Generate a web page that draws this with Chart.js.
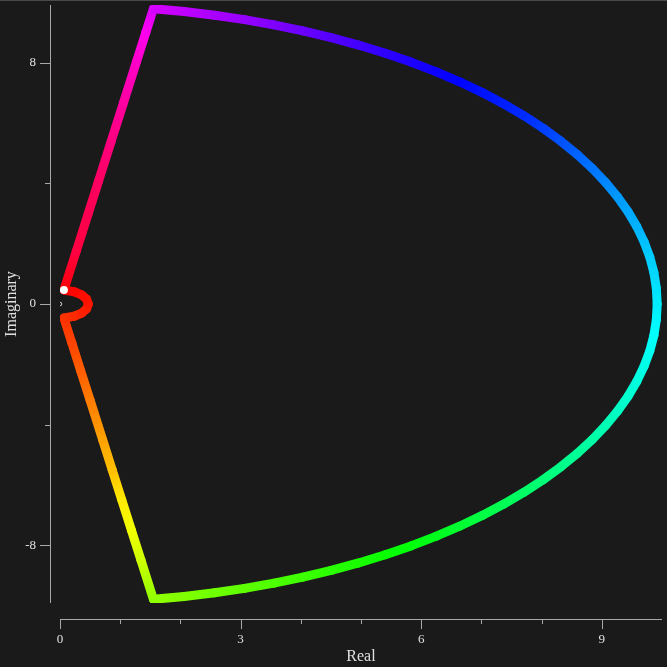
<!DOCTYPE html>
<html>
<head>
<meta charset="utf-8">
<script src="https://cdn.jsdelivr.net/npm/chart.js@4.4.1/dist/chart.umd.min.js"></script>
<style>
  html, body { margin: 0; padding: 0; background: #1a1a1a; }
  #wrap { width: 667px; height: 667px; position: relative; }
</style>
</head>
<body>
<div id="wrap"><canvas id="nyquist"></canvas></div>
<script>
// contour points (Real, Imaginary), in drawing order
const pathX = [
  0.065, 0.270, 0.469, 0.639, 0.851, 1.058, 1.270, 1.425,
  1.552, 2.062, 2.568, 3.065, 3.555, 4.035, 4.504, 4.960, 5.403, 5.831, 6.243, 6.638, 7.015, 7.372,
  7.709, 8.025, 8.320, 8.591, 8.839, 9.062, 9.261, 9.435, 9.582, 9.703, 9.798, 9.866, 9.906, 9.920,
  9.906, 9.866, 9.798, 9.703, 9.582, 9.435, 9.261, 9.062, 8.839, 8.591, 8.320, 8.025, 7.709, 7.372,
  7.015, 6.638, 6.243, 5.831, 5.403, 4.960, 4.504, 4.035, 3.555, 3.065, 2.568, 2.062, 1.552,
  1.345, 1.186, 1.026, 0.867, 0.708, 0.501, 0.341, 0.198, 0.065,
  0.235, 0.360, 0.442, 0.470, 0.442, 0.360, 0.235, 0.065
];
const pathY = [
  0.465, 1.75, 3.0, 4.07, 5.4, 6.7, 8.03, 9.0,
  9.798, 9.703, 9.582, 9.435, 9.261, 9.062, 8.839, 8.591, 8.320, 8.025, 7.709, 7.372, 7.015, 6.638,
  6.243, 5.831, 5.403, 4.960, 4.504, 4.035, 3.555, 3.065, 2.568, 2.062, 1.552, 1.037, 0.519, 0,
  -0.519, -1.037, -1.552, -2.062, -2.568, -3.065, -3.555, -4.035, -4.504, -4.960, -5.403, -5.831, -6.243, -6.638,
  -7.015, -7.372, -7.709, -8.025, -8.320, -8.591, -8.839, -9.062, -9.261, -9.435, -9.582, -9.703, -9.798,
  -8.5, -7.5, -6.5, -5.5, -4.5, -3.2, -2.2, -1.3, -0.465,
  -0.407, -0.302, -0.161, 0, 0.161, 0.302, 0.407, 0.465
];
// contour parameter (0..1) shown by the colour of the line
const pathT = [
  0.006, 0.042, 0.053, 0.064, 0.083, 0.106, 0.131, 0.156,
  0.1944, 0.2083, 0.2222, 0.2361, 0.2500, 0.2639, 0.2778, 0.2903, 0.3028, 0.3139, 0.3250, 0.3347, 0.3444, 0.3528,
  0.3611, 0.3736, 0.3861, 0.3972, 0.4083, 0.4208, 0.4333, 0.4417, 0.4500, 0.4583, 0.4667, 0.4736, 0.4806, 0.4875,
  0.4944, 0.5014, 0.5083, 0.5153, 0.5222, 0.5306, 0.5389, 0.5486, 0.5583, 0.5681, 0.5778, 0.5889, 0.6000, 0.6111,
  0.6222, 0.6347, 0.6472, 0.6597, 0.6722, 0.6833, 0.6944, 0.7056, 0.7167, 0.7278, 0.7389, 0.7500, 0.7611,
  0.800, 0.825, 0.847, 0.875, 0.894, 0.919, 0.939, 0.956, 0.967,
  0.972, 0.978, 0.981, 0.986, 0.989, 0.992, 0.997, 1.000
];
const startPoint = [{ x: 0.065, y: 0.465 }];
const originPoint = [{ x: 0, y: 0 }];

const xRange = [0, 10];
const yRange = [-9.92, 9.92];
const xMajorTicks = [0, 3, 6, 9];
const xMinorTicks = [1, 2, 4, 5, 7, 8];
const yMajorTicks = [-8, 0, 8];
const yMinorTicks = [-4, 4];
const xTitle = 'Real';
const yTitle = 'Imaginary';

const AXIS_COLOR = '#a8a8a8';
const LABEL_COLOR = '#e0e0e0';
const FONT = '"Liberation Serif", "DejaVu Serif", serif';

function hueColor(t) {
    return `hsl(${(360 * (1 - t)).toFixed(1)}, 100%, 50%)`;
}

// seaborn-like offset axes drawn from the chart's own scales
const offsetAxes = {
    id: 'offsetAxes',
    afterDraw(chart) {
        const { ctx, chartArea, scales } = chart;
        const sx = scales.x, sy = scales.y;
        const axisY = chartArea.bottom + 16;
        const axisX = chartArea.left - 10;
        ctx.save();
        ctx.strokeStyle = AXIS_COLOR;
        ctx.lineWidth = 1;

        // x spine + ticks
        ctx.beginPath();
        ctx.moveTo(sx.getPixelForValue(xRange[0]), axisY + 0.5);
        ctx.lineTo(sx.getPixelForValue(xRange[1]), axisY + 0.5);
        xMajorTicks.forEach(v => {
            const px = Math.round(sx.getPixelForValue(v)) + 0.5;
            ctx.moveTo(px, axisY); ctx.lineTo(px, axisY + 10);
        });
        xMinorTicks.forEach(v => {
            const px = Math.round(sx.getPixelForValue(v)) + 0.5;
            ctx.moveTo(px, axisY); ctx.lineTo(px, axisY + 5);
        });
        // y spine + ticks
        ctx.moveTo(axisX + 0.5, sy.getPixelForValue(yRange[1]));
        ctx.lineTo(axisX + 0.5, sy.getPixelForValue(yRange[0]));
        yMajorTicks.forEach(v => {
            const py = Math.round(sy.getPixelForValue(v)) + 0.5;
            ctx.moveTo(axisX, py); ctx.lineTo(axisX - 10, py);
        });
        yMinorTicks.forEach(v => {
            const py = Math.round(sy.getPixelForValue(v)) + 0.5;
            ctx.moveTo(axisX, py); ctx.lineTo(axisX - 5, py);
        });
        ctx.stroke();

        // tick labels
        ctx.fillStyle = LABEL_COLOR;
        ctx.font = `13px ${FONT}`;
        ctx.textAlign = 'center';
        ctx.textBaseline = 'top';
        xMajorTicks.forEach(v => ctx.fillText(String(v), sx.getPixelForValue(v), axisY + 14));
        ctx.textAlign = 'right';
        ctx.textBaseline = 'middle';
        yMajorTicks.forEach(v => ctx.fillText(String(v), axisX - 14, sy.getPixelForValue(v)));

        // titles
        ctx.font = `16px ${FONT}`;
        ctx.textAlign = 'center';
        ctx.textBaseline = 'middle';
        ctx.fillText(xTitle, (sx.getPixelForValue(xRange[0]) + sx.getPixelForValue(xRange[1])) / 2, axisY + 38);
        ctx.translate(12, sy.getPixelForValue(0));
        ctx.rotate(-Math.PI / 2);
        ctx.fillText(yTitle, 0, 0);
        ctx.restore();

        // thin frame line at the top edge
        ctx.save();
        ctx.fillStyle = '#4a4a4a';
        ctx.fillRect(0, 0, chart.width, 1);
        ctx.restore();
    }
};

const pathData = pathX.map((x, i) => ({ x: x, y: pathY[i] }));

new Chart(document.getElementById('nyquist'), {
    type: 'scatter',
    data: {
        datasets: [{
            label: 'contour',
            data: pathData,
            showLine: true,
            pointRadius: 0,
            borderWidth: 9,
            borderCapStyle: 'round',
            borderJoinStyle: 'round',
            tension: 0,
            segment: {
                borderColor: c => {
                    const g = c.chart.ctx.createLinearGradient(c.p0.x, c.p0.y, c.p1.x, c.p1.y);
                    g.addColorStop(0, hueColor(pathT[c.p0DataIndex]));
                    g.addColorStop(1, hueColor(pathT[c.p1DataIndex]));
                    return g;
                }
            },
            order: 2
        }, {
            label: 'start',
            data: startPoint,
            pointRadius: 4,
            pointBackgroundColor: '#ffffff',
            pointBorderWidth: 0,
            order: 1
        }, {
            label: 'origin',
            data: originPoint,
            pointRadius: 1.8,
            pointBackgroundColor: 'rgba(0,0,0,0)',
            pointBorderColor: '#cfcfcf',
            pointBorderWidth: 1,
            order: 1
        }]
    },
    options: {
        responsive: true,
        maintainAspectRatio: false,
        animation: false,
        layout: { padding: { left: 60, right: 4, top: 3, bottom: 64 } },
        plugins: { legend: { display: false }, tooltip: { enabled: false } },
        scales: {
            x: { type: 'linear', min: xRange[0], max: xRange[1], display: false },
            y: { type: 'linear', min: yRange[0], max: yRange[1], display: false }
        }
    },
    plugins: [offsetAxes]
});
</script>
</body>
</html>
